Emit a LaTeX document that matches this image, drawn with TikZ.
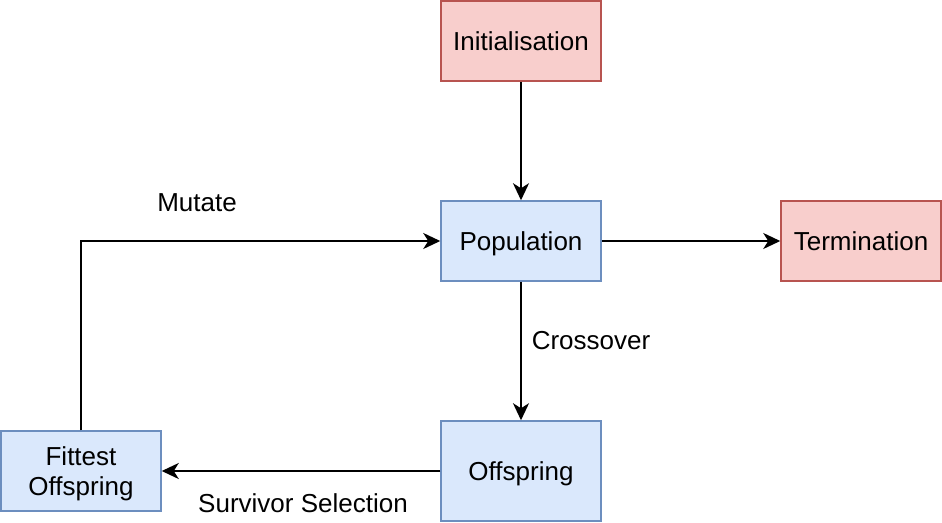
\documentclass[tikz,border=0pt]{standalone}
\usepackage{fontspec}
\setmainfont{Liberation Sans}
\usetikzlibrary{arrows.meta}
\definecolor{redfill}{HTML}{F8CECC}
\definecolor{redline}{HTML}{B85450}
\definecolor{bluefill}{HTML}{DAE8FC}
\definecolor{blueline}{HTML}{6C8EBF}
\begin{document}
\begin{tikzpicture}[x=1pt,y=-1pt,
  box/.style={draw, line width=1.5pt, minimum width=160pt, minimum height=80pt, inner sep=0pt, align=center, text depth=0pt, font=\fontsize{26}{30}\selectfont},
  redbox/.style={box, fill=redfill, draw=redline},
  bluebox/.style={box, fill=bluefill, draw=blueline},
  conn/.style={line width=2pt, -{Stealth[length=17pt,width=16pt,inset=5pt]}},
  lbl/.style={font=\fontsize{26}{30}\selectfont, inner sep=0pt}]
\useasboundingbox (0,0) rectangle (942,522);
\node[redbox] (init) at (521,41) {Initialisation};
\node[bluebox] (pop) at (521,241) {Population};
\node[redbox] (term) at (861,241) {Termination};
\node[bluebox, minimum height=100pt] (off) at (521,471) {Offspring};
\node[bluebox] (fit) at (81,471) {Fittest\\Offspring};
\draw[conn] (init) -- (pop);
\draw[conn] (pop) -- (term);
\draw[conn] (pop) -- (off);
\draw[conn] (off) -- (fit);
\draw[conn] (fit.north) |- (pop.west);
\node[lbl] (mut) at (197,203) {Mutate};
\node[lbl] (cross) at (591,341) {Crossover};
\node[lbl] (surv) at (303,503) {Survivor Selection};
\end{tikzpicture}
\end{document}
